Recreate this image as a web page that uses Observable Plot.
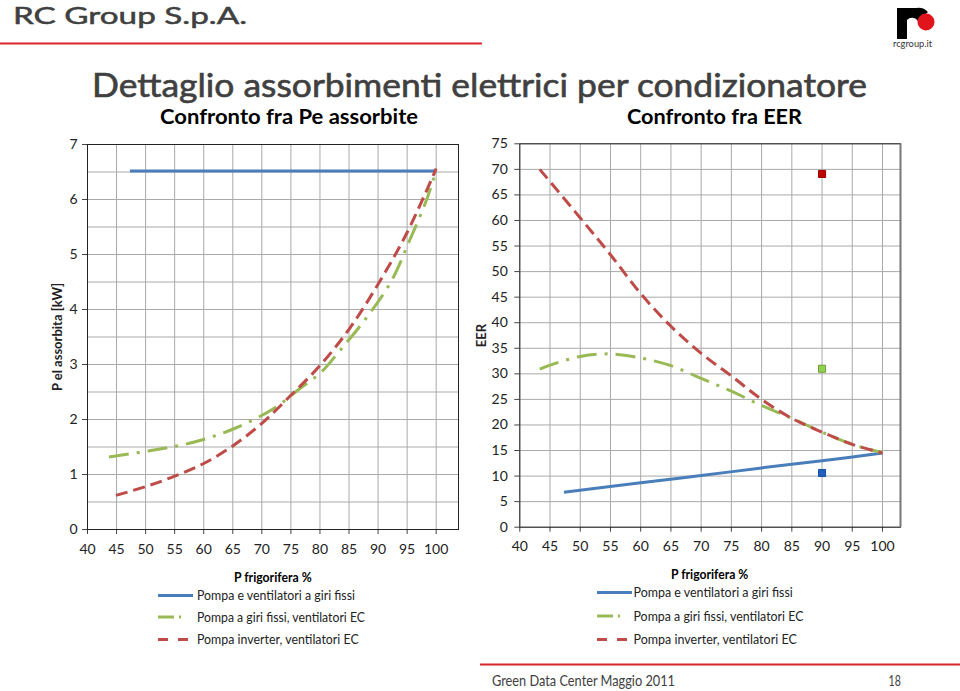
<!DOCTYPE html>
<html><head><meta charset="utf-8">
<script src="https://cdn.jsdelivr.net/npm/d3@7"></script>
<script src="https://cdn.jsdelivr.net/npm/@observablehq/plot@0.6"></script>
<style>
body{margin:0;background:#fff;}
#page{position:relative;width:960px;height:691px;overflow:hidden;background:#fff;font-family:Lato,"Open Sans",sans-serif;}
#page svg{position:absolute;overflow:visible;}
g[aria-label="y-axis label"] text{font-weight:bold;font-size:13px;}
</style></head><body><div id="page"></div>
<script>
// ---------- data ----------
const xTicks = [40,45,50,55,60,65,70,75,80,85,90,95,100];
const peTicks = [0,1,2,3,4,5,6,7];
const peGrid = [0,0.5,1,1.5,2,2.5,3,3.5,4,4.5,5,5.5,6,6.5,7];
const eerTicks = [0,5,10,15,20,25,30,35,40,45,50,55,60,65,70,75];

const seriesNames = ["Pompa e ventilatori a giri fissi","Pompa a giri fissi, ventilatori EC","Pompa inverter, ventilatori EC"];
const seriesColors = ["#4a7ebb","#98b954","#be4b48"];
const seriesDash = [null,"20,8,3,8","12,6"];

// Left chart: P el assorbita [kW]
const peFixedX = [47.3, 100];
const peFixedY = [6.52, 6.52];
const peEcX = [43.7, 51.2, 58.4, 65.6, 72.2, 76.5, 80.2, 83.4, 88, 92.3, 95.4, 98.3, 100];
const peEcY = [1.32, 1.44, 1.59, 1.85, 2.21, 2.56, 2.86, 3.25, 3.85, 4.52, 5.25, 5.98, 6.53];
const peInvX = [44.9, 50, 55, 60, 65, 70, 75, 80, 85, 90, 95, 100];
const peInvY = [0.62, 0.78, 0.97, 1.2, 1.52, 1.93, 2.44, 2.98, 3.64, 4.46, 5.4, 6.56];

// Right chart: EER
const eerFixedX = [47.3, 60, 70, 80, 90, 100];
const eerFixedY = [6.85, 8.7, 10.1, 11.6, 13.0, 14.5];
const eerEcX = [43.3, 45, 50, 55, 60, 65, 70, 75, 80, 85, 90, 95, 100];
const eerEcY = [30.9, 31.7, 33.4, 33.9, 33.1, 31.6, 29.1, 26.6, 23.8, 21.3, 18.6, 16.2, 14.6];
const eerInvX = [43.3, 50, 55, 60, 65, 70, 75, 80, 85, 90, 95, 100];
const eerInvY = [70.0, 60.5, 53.3, 45.7, 39.3, 34.0, 29.6, 25.0, 21.3, 18.6, 16.2, 14.5];

// Nominal points (squares)
const nomX = [90, 90, 90];
const nomEer = [10.6, 31.0, 69.1];
const nomFill = ["#1f5fbf", "#92d050", "#c00000"];
const nomStroke = ["#1a4f9f", "#6ea03c", "#a00000"];

// ---------- helpers ----------
const rows = (X, Y) => X.map((x, i) => ({x, y: Y[i]}));
const page = document.getElementById("page");
const gridStroke = "#a9a9a9";
const intFmt = d => String(d);

function lines(sets) {
  return sets.map(([X, Y], i) => Plot.line(rows(X, Y), {
    x: "x", y: "y", stroke: seriesColors[i], strokeWidth: 3,
    curve: "catmull-rom", strokeDasharray: seriesDash[i] || undefined, strokeLinecap: "butt"
  }));
}

const plotStyle = {fontFamily: "Lato, 'Open Sans', sans-serif", fontSize: "14px", color: "#222", background: "transparent", overflow: "visible"};

// ---------- left plot ----------
const left = Plot.plot({
  width: 470, height: 440,
  marginLeft: 87, marginRight: 12, marginTop: 14, marginBottom: 41,
  style: plotStyle,
  x: {domain: [40, 103.84]},
  y: {domain: [0, 7]},
  marks: [
    Plot.gridY(peGrid, {stroke: gridStroke, strokeOpacity: 1}),
    Plot.gridX(xTicks, {stroke: gridStroke, strokeOpacity: 1}),
    Plot.axisX(xTicks, {tickSize: 5, tickPadding: 10, label: null, stroke: "#444", tickFormat: intFmt}),
    Plot.axisY(peTicks, {tickSize: 5, tickPadding: 5, label: "P el assorbita [kW]", labelAnchor: "center", labelArrow: "none", labelOffset: 35, stroke: "#444", tickFormat: intFmt}),
    Plot.frame({stroke: "#222"}),
    ...lines([[peFixedX, peFixedY], [peEcX, peEcY], [peInvX, peInvY]])
  ]
});
left.style.left = "0px"; left.style.top = "130px";
page.appendChild(left);

// ---------- right plot ----------
const right = Plot.plot({
  width: 470, height: 440,
  marginLeft: 49.3, marginRight: 40, marginTop: 13.3, marginBottom: 43.3,
  style: plotStyle,
  x: {domain: [40, 102.98]},
  y: {domain: [0, 75]},
  color: {type: "identity"},
  marks: [
    Plot.gridY(eerTicks, {stroke: gridStroke, strokeOpacity: 1}),
    Plot.gridX(xTicks, {stroke: gridStroke, strokeOpacity: 1}),
    Plot.axisX(xTicks, {tickSize: 5, tickPadding: 9, label: null, stroke: "#444", tickFormat: intFmt}),
    Plot.axisY(eerTicks, {tickSize: 5, tickPadding: 7, label: "EER", labelAnchor: "center", labelArrow: "none", labelOffset: 43, stroke: "#444", tickFormat: intFmt}),
    Plot.frame({stroke: "#222"}),
    Plot.ruleX([102.98], {stroke: "#777", strokeWidth: 2}),
    ...lines([[eerFixedX, eerFixedY], [eerEcX, eerEcY], [eerInvX, eerInvY]]),
    Plot.dot(nomX.map((x, i) => ({x, y: nomEer[i], f: nomFill[i], s: nomStroke[i]})),
      {x: "x", y: "y", symbol: "square", r: 4, fill: "f", stroke: "s", strokeWidth: 1})
  ]
});
right.style.left = "470px"; right.style.top = "130px";
page.appendChild(right);

// ---------- slide decoration & text ----------
function legend(x0, tx, ys, lens) {
  return seriesNames.map((n, i) => {
    const y = ys[i], ly = y - 4.5;
    let sw;
    if (i === 0) sw = `<line x1="${x0}" x2="${x0+35}" y1="${ly}" y2="${ly}" stroke="${seriesColors[0]}" stroke-width="3"/>`;
    else if (i === 1) sw = `<line x1="${x0}" x2="${x0+16}" y1="${ly}" y2="${ly}" stroke="${seriesColors[1]}" stroke-width="3"/><line x1="${x0+21}" x2="${x0+23}" y1="${ly}" y2="${ly}" stroke="${seriesColors[1]}" stroke-width="3"/>`;
    else sw = `<line x1="${x0}" x2="${x0+10}" y1="${ly}" y2="${ly}" stroke="${seriesColors[2]}" stroke-width="3"/><line x1="${x0+20}" x2="${x0+30}" y1="${ly}" y2="${ly}" stroke="${seriesColors[2]}" stroke-width="3"/>`;
    return sw + `<text x="${tx}" y="${y}" font-size="14" fill="#222" textLength="${lens[i]}" lengthAdjust="spacingAndGlyphs">${n}</text>`;
  }).join("");
}

const deco = document.createElementNS("http://www.w3.org/2000/svg", "svg");
deco.setAttribute("width", 960); deco.setAttribute("height", 691);
deco.style.left = "0px"; deco.style.top = "0px";
deco.setAttribute("font-family", "Lato, 'Open Sans', sans-serif");
deco.innerHTML = `
  <text x="13" y="23.5" font-size="24" fill="#404040" stroke="#404040" stroke-width="0.5" textLength="234" lengthAdjust="spacingAndGlyphs">RC Group S.p.A.</text>
  <line x1="0" x2="482" y1="43.5" y2="43.5" stroke="#d9262b" stroke-width="2"/>
  <path d="M897,39 V8 H916 A13,13 0 0 1 928,12 L918,21 A7,7 0 0 0 907,20 V39 Z" fill="#000"/>
  <circle cx="926" cy="22" r="8.5" fill="#e1141b"/>
  <text x="893" y="47" font-size="10" fill="#333" textLength="39" lengthAdjust="spacingAndGlyphs">rcgroup.it</text>
  <text x="92" y="96.5" font-size="32" fill="#404040" stroke="#404040" stroke-width="0.6" textLength="775" lengthAdjust="spacingAndGlyphs">Dettaglio assorbimenti elettrici per condizionatore</text>
  <text x="160" y="124" font-size="21" font-weight="bold" fill="#000" textLength="258" lengthAdjust="spacingAndGlyphs">Confronto fra Pe assorbite</text>
  <text x="627" y="123.5" font-size="21" font-weight="bold" fill="#000" textLength="175" lengthAdjust="spacingAndGlyphs">Confronto fra EER</text>
  <text x="234" y="581.5" font-size="14" font-weight="bold" fill="#000" textLength="77.7" lengthAdjust="spacingAndGlyphs">P frigorifera %</text>
  <text x="671" y="578.5" font-size="14" font-weight="bold" fill="#000" textLength="77.3" lengthAdjust="spacingAndGlyphs">P frigorifera %</text>
  ${legend(158, 197, [600, 621.5, 644], [158, 168, 161.7])}
  ${legend(597, 633.5, [597, 620.5, 644], [159.3, 170, 163.3])}
  <line x1="480" x2="960" y1="664.5" y2="664.5" stroke="#d9262b" stroke-width="2"/>
  <text x="492" y="686" font-size="15" fill="#404040" textLength="183" lengthAdjust="spacingAndGlyphs">Green Data Center Maggio 2011</text>
  <text x="888.5" y="686" font-size="15" fill="#404040" textLength="12.3" lengthAdjust="spacingAndGlyphs">18</text>
`;
page.appendChild(deco);
</script>
</body></html>
